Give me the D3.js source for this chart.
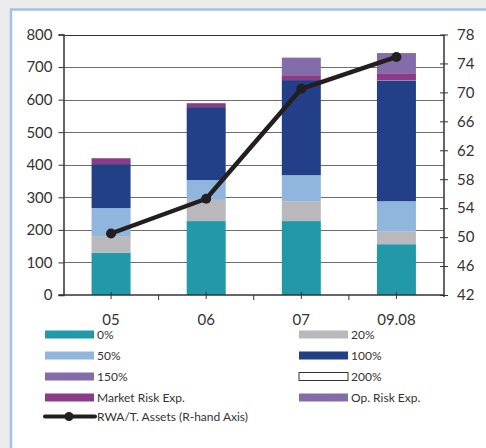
<!DOCTYPE html>
<html>
<head>
<meta charset="utf-8">
<script src="https://cdn.jsdelivr.net/npm/d3@7/dist/d3.min.js"></script>
<style>
  html, body { margin: 0; padding: 0; background: #ececec; }
  svg { display: block; }
  text { font-family: Lato, "DejaVu Sans", sans-serif; fill: #333; }
</style>
</head>
<body>
<script>
// Risk-weighted exposure by weighting band (left axis) and RWA / total assets (right axis)
const categories = ["05", "06", "07", "09.08"];
const seriesNames = ["0%", "20%", "50%", "100%", "150%", "200%", "Market Risk Exp.", "Op. Risk Exp."];
const w0   = [130, 227, 227, 156];
const w20  = [51, 65, 61, 40];
const w50  = [86, 61, 80, 92];
const w100 = [135, 224, 292, 370];
const w150 = [0, 0, 0, 2];
const w200 = [0, 0, 0, 0];
const marketRisk = [18, 12, 15, 21];
const opRisk = [0, 0, 54, 62];
const rwaRatio = [50.5, 55.3, 70.5, 74.9];
const leftTicks = [0, 100, 200, 300, 400, 500, 600, 700, 800];
const rightTicks = [42, 46, 50, 54, 58, 62, 66, 70, 74, 78];
const lineName = "RWA/T. Assets (R-hand Axis)";

const colors = ["#2299a9", "#b9b9bd", "#90b6dd", "#233f87", "#846ba9", "#ffffff", "#8b3c87", "#846ba9"];
const seriesValues = [w0, w20, w50, w100, w150, w200, marketRisk, opRisk];

const W = 486, H = 448;
const svg = d3.select("body").append("svg").attr("width", W).attr("height", H);

// panel with light blue frame
svg.append("rect").attr("x", 11).attr("y", 9.5).attr("width", 500).attr("height", 460)
  .attr("fill", "#ffffff").attr("stroke", "#a0c4e8").attr("stroke-width", 2.5);

const plotLeft = 63.5, plotRight = 444, plotTop = 34.5, plotBottom = 295;

const x = d3.scaleBand().domain(categories).range([plotLeft, plotRight]).paddingInner(0.59).paddingOuter(0.295);
const y = d3.scaleLinear().domain([0, 800]).range([plotBottom, plotTop]);
const y2 = d3.scaleLinear().domain([42, 78]).range([plotBottom, plotTop]);

// gridlines
svg.append("g").selectAll("line").data(leftTicks.filter(d => d > 0)).join("line")
  .attr("x1", plotLeft).attr("x2", plotRight)
  .attr("y1", d => Math.round(y(d)) + 0.5).attr("y2", d => Math.round(y(d)) + 0.5)
  .attr("stroke", d => d === 800 ? "#333" : "#6e6e6e").attr("stroke-width", 1);

// stacked bars
const rows = categories.map((c, i) => {
  const r = { cat: c };
  seriesNames.forEach((s, k) => r[s] = seriesValues[k][i]);
  return r;
});
const stacked = d3.stack().keys(seriesNames)(rows);
svg.append("g").selectAll("g").data(stacked).join("g")
  .attr("fill", (d, k) => colors[k])
  .selectAll("rect").data(d => d.filter(p => p[1] - p[0] > 0)).join("rect")
  .attr("x", d => x(d.data.cat))
  .attr("width", x.bandwidth())
  .attr("y", d => y(d[1]))
  .attr("height", d => y(d[0]) - y(d[1]));

// left axis
const yAxis = d3.axisLeft(y).tickValues(leftTicks).tickSize(5).tickPadding(6);
const gL = svg.append("g").attr("transform", `translate(${plotLeft},0)`).call(yAxis);
gL.select(".domain").attr("stroke", "#333").attr("stroke-width", 1.5);
gL.selectAll(".tick line").attr("stroke", "#333");
gL.selectAll("text").style("font-size", "15px").attr("fill", "#333");

// right axis
const yAxis2 = d3.axisRight(y2).tickValues(rightTicks).tickSize(4).tickPadding(9);
const gR = svg.append("g").attr("transform", `translate(${plotRight},0)`).call(yAxis2);
gR.select(".domain").attr("stroke", "#333").attr("stroke-width", 1.5).attr("d", `M0,${plotTop}V${plotBottom + 2}`);
gR.selectAll(".tick line").attr("stroke", "#333").attr("x1", -4);
gR.selectAll("text").style("font-size", "15px").attr("fill", "#333");

// bottom axis
const gB = svg.append("g");
gB.append("line").attr("x1", plotLeft - 5).attr("x2", plotRight).attr("y1", plotBottom).attr("y2", plotBottom)
  .attr("stroke", "#333").attr("stroke-width", 1.5);
gB.selectAll("line.c").data(categories).join("line").attr("class", "c")
  .attr("x1", d => x(d) + x.bandwidth() / 2).attr("x2", d => x(d) + x.bandwidth() / 2)
  .attr("y1", plotBottom - 3).attr("y2", plotBottom + 4).attr("stroke", "#333");
const bounds = categories.slice(1).map(d => x(d) - x.step() * x.paddingInner() / 2);
gB.selectAll("line.b").data(bounds).join("line").attr("class", "b")
  .attr("x1", d => d).attr("x2", d => d).attr("y1", plotBottom).attr("y2", plotBottom + 5).attr("stroke", "#333");
gB.selectAll("text").data(categories).join("text")
  .attr("x", d => x(d) + x.bandwidth() / 2).attr("y", 325)
  .attr("text-anchor", "middle").style("font-size", "15px").text(d => d);

// ratio line
const cx = d => x(d) + x.bandwidth() / 2;
const line = d3.line().x((d, i) => cx(categories[i])).y(d => y2(d));
svg.append("path").datum(rwaRatio).attr("d", line)
  .attr("fill", "none").attr("stroke", "#231f20").attr("stroke-width", 4.5).attr("stroke-linejoin", "round");
svg.append("g").selectAll("circle").data(rwaRatio).join("circle")
  .attr("cx", (d, i) => cx(categories[i])).attr("cy", d => y2(d)).attr("r", 5).attr("fill", "#231f20");

// legend
const lg = svg.append("g");
const legendItems = seriesNames.map((s, k) => ({ name: s, color: colors[k], col: k % 2, row: Math.floor(k / 2) }));
const colX = [45, 299], rowY0 = 334.5, rowStep = 21;
legendItems.forEach(it => {
  const xx = colX[it.col], yy = rowY0 + it.row * rowStep;
  lg.append("rect").attr("x", xx).attr("y", yy - 4).attr("width", 49).attr("height", 8)
    .attr("fill", it.color)
    .attr("stroke", it.name === "200%" ? "#333" : "none").attr("stroke-width", 1);
  lg.append("text").attr("x", xx + 52).attr("y", yy + 4.5).style("font-size", "12px").text(it.name);
});
const ly = rowY0 + 4 * rowStep - 2;
lg.append("line").attr("x1", 45).attr("x2", 95).attr("y1", ly).attr("y2", ly)
  .attr("stroke", "#231f20").attr("stroke-width", 4).attr("stroke-linecap", "round");
lg.append("circle").attr("cx", 69).attr("cy", ly).attr("r", 4.5).attr("fill", "#231f20");
lg.append("text").attr("x", 97).attr("y", ly + 4.5).style("font-size", "12px").text(lineName);
</script>
</body>
</html>
